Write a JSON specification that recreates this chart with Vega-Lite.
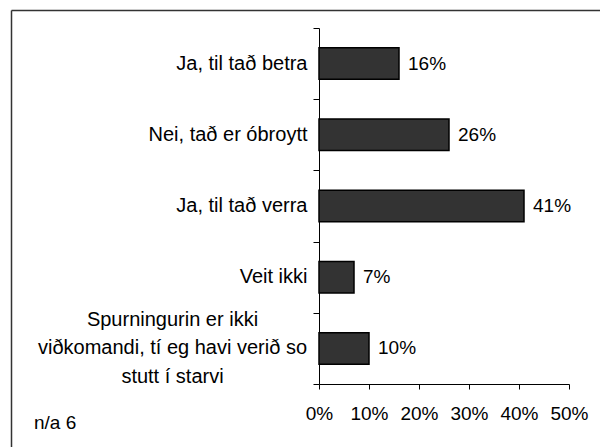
{
  "$schema": "https://vega.github.io/schema/vega-lite/v6.json",
  "width": 250,
  "height": 356,
  "autosize": {"type": "none"},
  "padding": {"left": 319, "top": 28, "right": 31, "bottom": 63},
  "background": "#ffffff",
  "config": {
    "font": "Liberation Sans",
    "view": {"stroke": null},
    "text": {"font": "Liberation Sans", "color": "#000000"}
  },
  "layer": [
    {
      "data": {
        "values": [
          {"svar": "Ja, til tað betra", "share": 0.16},
          {"svar": "Nei, tað er óbroytt", "share": 0.26},
          {"svar": "Ja, til tað verra", "share": 0.41},
          {"svar": "Veit ikki", "share": 0.07},
          {"svar": "Spurningurin er ikki\nviðkomandi, tí eg havi verið so\nstutt í starvi", "share": 0.10}
        ]
      },
      "encoding": {
        "x": {
          "field": "share",
          "type": "quantitative",
          "scale": {"domain": [0, 0.5], "nice": false},
          "axis": {
            "orient": "bottom",
            "title": null,
            "values": [0, 0.1, 0.2, 0.3, 0.4, 0.5],
            "format": ".0%",
            "grid": false,
            "domain": true,
            "domainColor": "#000000",
            "domainWidth": 1,
            "tickSize": 5,
            "tickColor": "#000000",
            "labelFont": "Liberation Sans",
            "labelFontSize": 19,
            "labelColor": "#000000",
            "labelPadding": 15,
            "labelFlush": false,
            "labelOverlap": false
          }
        }
      },
      "layer": [
        {
          "mark": {"type": "bar", "fill": "#333333", "stroke": "#000000", "strokeWidth": 1.5, "height": {"band": 0.443}},
          "encoding": {
            "y": {
              "field": "svar",
              "type": "nominal",
              "sort": null,
              "scale": {"type": "band", "paddingInner": 0, "paddingOuter": 0},
              "axis": {
                "orient": "left",
                "title": null,
                "domain": false,
                "ticks": false,
                "grid": false,
                "labelFont": "Liberation Sans",
                "labelFontSize": 20,
                "labelColor": "#000000",
                "labelLimit": 0,
                "labelOverlap": false,
                "labelLineHeight": 28.5,
                "labelBaseline": "middle",
                "labelExpr": "isString(datum.value) && indexof(datum.value, '\\n') >= 0 ? split(datum.value, '\\n') : datum.label",
                "labelAlign": {"condition": {"test": "isString(datum.value) && indexof(datum.value, '\\n') >= 0", "value": "center"}, "value": "right"},
                "labelPadding": {"condition": {"test": "isString(datum.value) && indexof(datum.value, '\\n') >= 0", "value": 147}, "value": 12},
                "labelOffset": {"condition": {"test": "isString(datum.value) && indexof(datum.value, '\\n') >= 0", "value": -28.5}, "value": 0}
              }
            }
          }
        },
        {
          "mark": {"type": "text", "align": "left", "baseline": "middle", "dx": 9, "fontSize": 19, "font": "Liberation Sans", "color": "#000000"},
          "encoding": {
            "y": {
              "field": "svar",
              "type": "nominal",
              "sort": null,
              "axis": {
                "orient": "left",
                "title": null,
                "domain": true,
                "domainColor": "#000000",
                "domainWidth": 1,
                "ticks": true,
                "tickBand": "extent",
                "tickSize": 6,
                "tickColor": "#000000",
                "labels": false,
                "grid": false
              }
            },
            "text": {"field": "share", "type": "quantitative", "format": ".0%"}
          }
        }
      ],
      "resolve": {"axis": {"y": "independent"}}
    },
    {
      "data": {"values": [{"note": "n/a 6"}]},
      "mark": {"type": "text", "align": "left", "baseline": "middle", "dx": 23, "dy": -24, "fontSize": 19, "font": "Liberation Sans", "color": "#000000"},
      "encoding": {
        "x": {
          "datum": 0,
          "type": "quantitative",
          "scale": {"domain": [0, 1], "range": [-308, 281], "nice": false, "zero": false},
          "axis": {"orient": "top", "offset": 18, "title": null, "domain": true, "domainColor": "#333333", "domainWidth": 1.5, "ticks": false, "labels": false, "grid": false}
        },
        "y": {
          "datum": 0,
          "type": "quantitative",
          "scale": {"domain": [0, 1], "range": [419, -18], "nice": false, "zero": false},
          "axis": {"orient": "left", "offset": 308, "title": null, "domain": true, "domainColor": "#333333", "domainWidth": 1.5, "ticks": false, "labels": false, "grid": false}
        },
        "text": {"field": "note", "type": "nominal"}
      }
    }
  ],
  "resolve": {
    "scale": {"x": "independent", "y": "independent"},
    "axis": {"x": "independent", "y": "independent"}
  }
}
